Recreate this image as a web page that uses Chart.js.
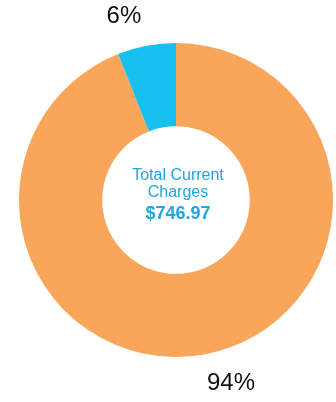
<!DOCTYPE html>
<html>
<head>
<meta charset="utf-8">
<script src="https://cdn.jsdelivr.net/npm/chart.js@4"></script>
<style>
    html, body { margin: 0; padding: 0; background: #fff; }
    canvas { display: block; }
</style>
</head>
<body>
<canvas id="chargesChart" width="336" height="402"></canvas>
<script>
// Chart data
const categories = ['Other Charges', 'Service Charges'];
const shareValues = [94, 6];
const sliceLabels = ['94%', '6%'];
const sliceColors = ['#F9A65B', '#18C0F0'];
const centerLines = ['Total Current', 'Charges'];
const totalAmount = '$746.97';

/**
 * Draws the percentage labels outside each slice
 */
const outsideLabels = {
    id: 'outsideLabels',
    afterDraw(chart) {
        const ctx = chart.ctx;
        const meta = chart.getDatasetMeta(0);
        ctx.save();
        ctx.font = '24px "Liberation Sans", Arial, sans-serif';
        ctx.fillStyle = '#111';
        ctx.textAlign = 'center';
        ctx.textBaseline = 'middle';
        meta.data.forEach((arc, i) => {
            const mid = (arc.startAngle + arc.endAngle) / 2;
            const r = arc.outerRadius + 30;
            const dx = Math.cos(mid);
            const x = arc.x + r * dx + (dx >= 0 ? 20 : -17);
            const y = arc.y + r * Math.sin(mid);
            ctx.fillText(sliceLabels[i], x, y);
        });
        ctx.restore();
    }
};

/**
 * Draws the total in the middle of the doughnut
 */
const centerText = {
    id: 'centerText',
    afterDraw(chart) {
        const ctx = chart.ctx;
        const arc = chart.getDatasetMeta(0).data[0];
        const cx = arc.x + 2;
        const cy = arc.y;
        ctx.save();
        ctx.fillStyle = '#1FA5E0';
        ctx.textAlign = 'center';
        ctx.textBaseline = 'middle';
        ctx.font = '16px "Liberation Sans", Arial, sans-serif';
        ctx.fillText(centerLines[0], cx, cy - 24);
        ctx.fillText(centerLines[1], cx, cy - 7);
        ctx.font = 'bold 18px "Liberation Sans", Arial, sans-serif';
        ctx.fillText(totalAmount, cx, cy + 14);
        ctx.restore();
    }
};

const ctx = document.getElementById('chargesChart');
new Chart(ctx, {
    type: 'doughnut',
    data: {
        labels: categories,
        datasets: [{
            data: shareValues,
            backgroundColor: sliceColors,
            borderWidth: 0
        }]
    },
    options: {
        responsive: false,
        animation: false,
        cutout: '47%',
        layout: {
            padding: { left: 19, right: 3, top: 43, bottom: 45 }
        },
        plugins: {
            legend: { display: false },
            tooltip: { enabled: false }
        }
    },
    plugins: [outsideLabels, centerText]
});
</script>
</body>
</html>
